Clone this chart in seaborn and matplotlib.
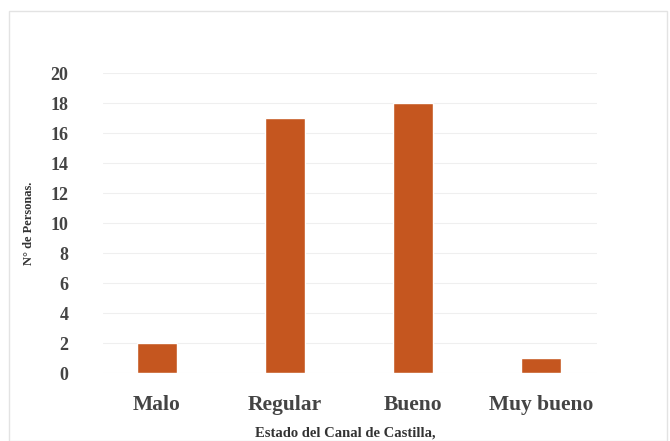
import matplotlib
matplotlib.use("Agg")
import matplotlib.pyplot as plt
import seaborn as sns
import pandas as pd

categorias = ["Malo", "Regular", "Bueno", "Muy bueno"]
personas = [2, 17, 18, 1]
yticks = list(range(0, 21, 2))

df = pd.DataFrame({"estado": categorias, "n": personas})

sns.set_theme(style="white")
plt.rcParams["font.family"] = ["Liberation Serif", "DejaVu Serif"]

fig = plt.figure(figsize=(6.7, 4.41), dpi=100)
# ejes: x 103..597 px, y 73..373 px
ax = fig.add_axes([103 / 670, (441 - 373) / 441, 494 / 670, 300 / 441])

sns.barplot(data=df, x="estado", y="n", color="#C5561F", saturation=1,
            width=0.31, ax=ax, zorder=3)

ax.set_xlim(-0.422, 3.4375)
ax.set_ylim(0, 20)
ax.set_yticks(yticks)
ax.set_yticklabels([str(t) for t in yticks], fontsize=13, fontweight="bold", color="#444444")
ax.set_xticklabels(categorias, fontsize=15.5, fontweight="bold", color="#444444")
ax.yaxis.grid(True, color="#efefef", linewidth=0.8, zorder=0)
for s in ax.spines.values():
    s.set_visible(False)
ax.tick_params(axis="x", length=0, pad=16)
ax.tick_params(axis="y", length=0, pad=25)

ax.set_xlabel("Estado del Canal de Castilla,", fontsize=10.5, fontweight="bold", color="#333333")
ax.set_ylabel("N° de Personas.", fontsize=9, fontweight="bold", color="#333333")
ax.xaxis.set_label_coords(0.49, -0.18)
ax.yaxis.set_label_coords(-0.138, 0.5)

fig.patches.append(plt.Rectangle((9 / 670, 0.0), 658 / 670, 430 / 441, transform=fig.transFigure,
                                 fill=False, edgecolor="#e3e3e3", linewidth=1))

fig.savefig("out.png", dpi=100)
